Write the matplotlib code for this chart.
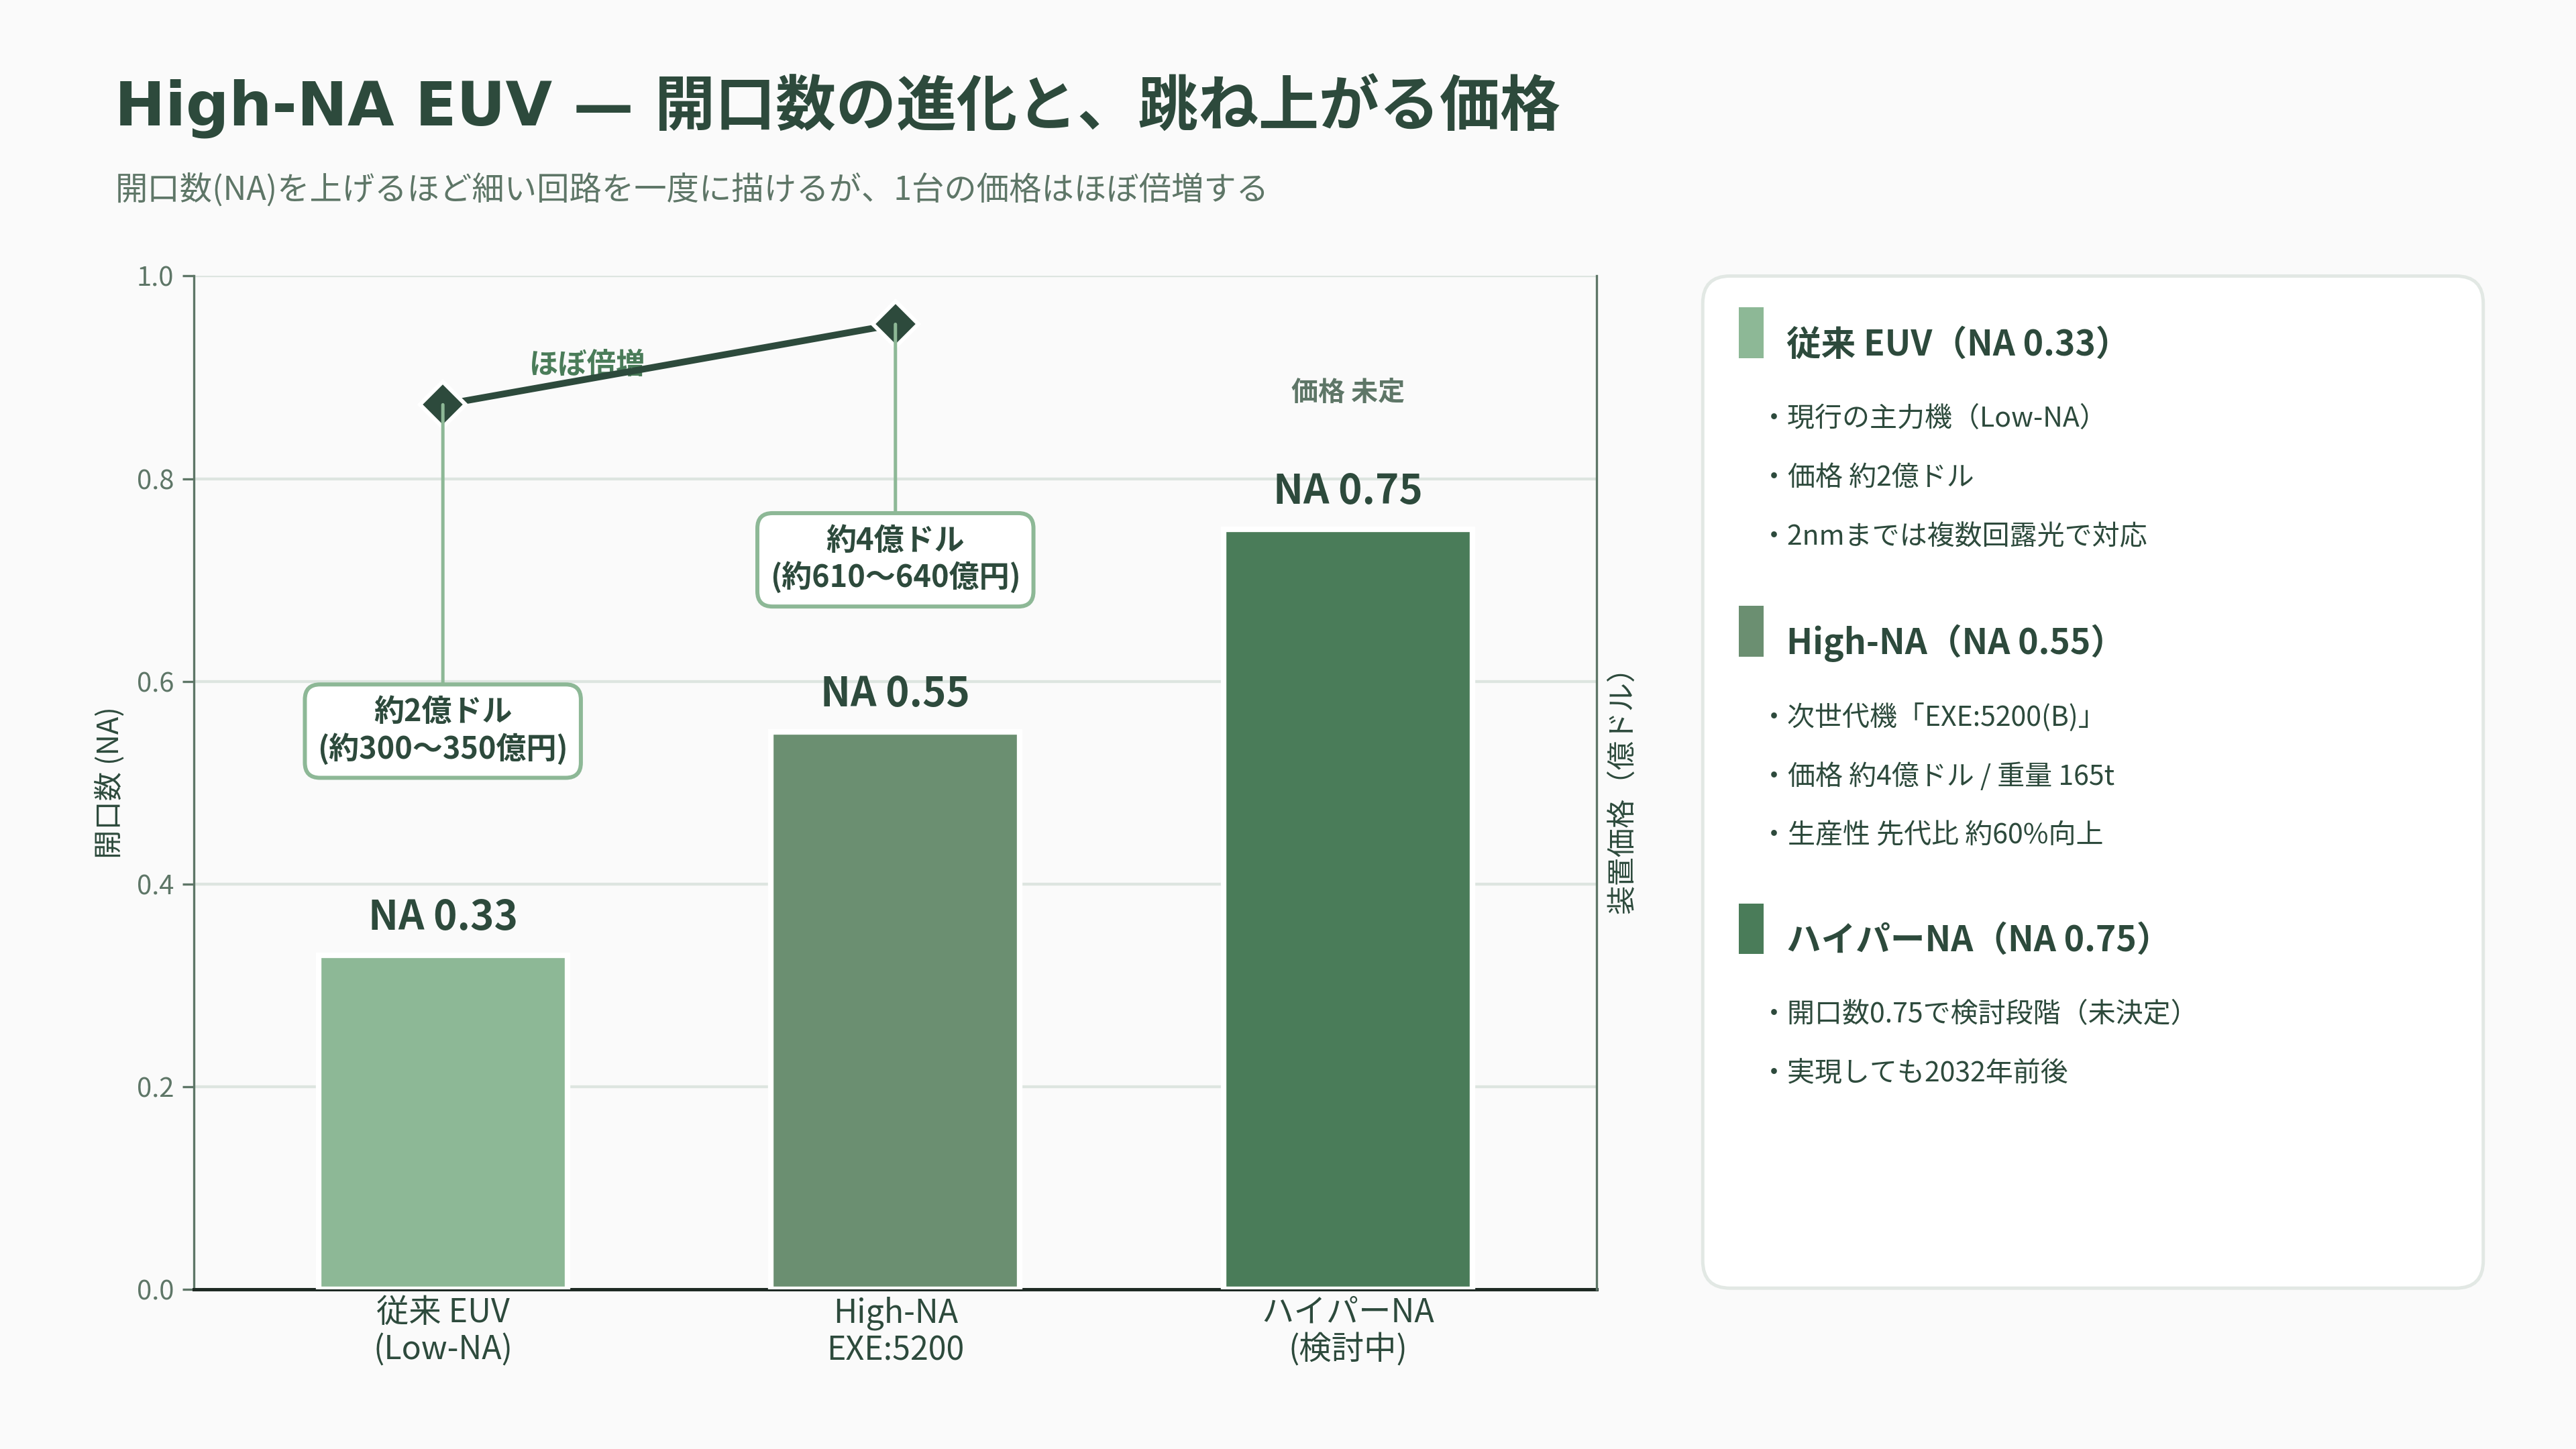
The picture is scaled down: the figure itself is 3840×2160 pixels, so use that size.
import matplotlib
matplotlib.use('Agg')
import matplotlib.pyplot as plt
from matplotlib.patches import FancyBboxPatch

plt.rcParams['font.family'] = ['Noto Sans CJK JP', 'DejaVu Sans']

# ---------------- data ----------------
categories = ['従来 EUV\n(Low-NA)', 'High-NA\nEXE:5200', 'ハイパーNA\n(検討中)']
na_values = [0.33, 0.55, 0.75]
na_labels = ['NA 0.33', 'NA 0.55', 'NA 0.75']
bar_colors = ['#8DB896', '#6B8F71', '#4A7C59']

price_x = [0, 1]
price_values = [2, 4]          # 億ドル
price_notes = ['約2億ドル\n(約300〜350億円)', '約4億ドル\n(約610〜640億円)']
price_note_y = [0.551, 0.720]  # note box centre on NA axis
price_unknown = '価格 未定'
price_trend = 'ほぼ倍増'

yticks = [0.0, 0.2, 0.4, 0.6, 0.8, 1.0]

panel_headers = ['従来 EUV（NA 0.33）', 'High-NA（NA 0.55）', 'ハイパーNA（NA 0.75）']
panel_bullets = [
    ['現行の主力機（Low-NA）', '価格 約2億ドル', '2nmまでは複数回露光で対応'],
    ['次世代機「EXE:5200(B)」', '価格 約4億ドル / 重量 165t', '生産性 先代比 約60%向上'],
    ['開口数0.75で検討段階（未決定）', '実現しても2032年前後'],
]

title = 'High-NA EUV — 開口数の進化と、跳ね上がる価格'
subtitle = '開口数(NA)を上げるほど細い回路を一度に描けるが、1台の価格はほぼ倍増する'

# ---------------- style ----------------
DARK = '#2D4A3C'
MUTED = '#5E7667'
GRID = '#DDE5E0'
BG = '#FAFAFA'

fig = plt.figure(figsize=(16, 9), dpi=240, facecolor=BG)

fig.text(0.0445, 0.927, title, fontsize=27, fontweight='bold', color=DARK,
         ha='left', va='center', family=['DejaVu Sans', 'Noto Sans CJK JP'])
fig.text(0.0447, 0.869, subtitle, fontsize=14.5, color=MUTED,
         ha='left', va='center')

ax = fig.add_axes([0.0753, 0.110, 0.5446, 0.6995])
ax.set_facecolor(BG)
x = list(range(len(categories)))
ax.bar(x, na_values, width=0.55, color=bar_colors, edgecolor='white',
       linewidth=2.5, zorder=3)
for xi, v, lab in zip(x, na_values, na_labels):
    ax.text(xi, v + 0.037, lab, ha='center', va='center', fontsize=18,
            fontweight='bold', color=DARK, zorder=5)

ax.set_xlim(-0.55, 2.55)
ax.set_ylim(0, 1.0)
ax.set_yticks(yticks)
ax.set_yticklabels([f'{t:.1f}' for t in yticks])
ax.set_xticks(x)
ax.set_xticklabels(categories, fontsize=14.5, color=DARK, linespacing=1.15)
ax.tick_params(axis='x', length=0, pad=3)
ax.tick_params(axis='y', length=5, width=1, color=MUTED, labelsize=12,
               labelcolor=MUTED, pad=4)
ax.yaxis.grid(True, color=GRID, linewidth=1.3, zorder=0)
ax.set_axisbelow(True)
ax.spines['top'].set_visible(False)
ax.spines['right'].set_visible(False)
ax.spines['left'].set_color(MUTED)
ax.spines['left'].set_linewidth(1.0)
ax.spines['bottom'].set_color('#1E2A24')
ax.spines['bottom'].set_linewidth(1.5)
ax.set_ylabel('開口数 (NA)', fontsize=13, color=DARK, labelpad=5)

ax.text(2, 0.885, price_unknown, ha='center', va='center', fontsize=12,
        fontweight='bold', color=MUTED, zorder=5)

# price on twin axis
ax2 = ax.twinx()
ax2.set_ylim(-20, 5.2)
ax2.set_yticks([])
for s in ['top', 'left', 'bottom']:
    ax2.spines[s].set_visible(False)
ax2.spines['right'].set_color(MUTED)
ax2.spines['right'].set_linewidth(1.0)
ax2.set_ylabel('装置価格（億ドル）', fontsize=13, color=DARK, labelpad=5)

for xi, p, note, ny in zip(price_x, price_values, price_notes, price_note_y):
    ax2.annotate(note, xy=(xi, p), xytext=(xi, ny), textcoords=ax.transData,
                 ha='center', va='center', fontsize=13.5, fontweight='bold',
                 color=DARK, linespacing=1.2, zorder=4,
                 bbox=dict(boxstyle='round,pad=0.42,rounding_size=0.5',
                           fc='white', ec='#8DB896', lw=1.8),
                 arrowprops=dict(arrowstyle='-', color='#8DB896', lw=1.5,
                                 shrinkA=0, shrinkB=0))

ax2.plot(price_x, price_values, color=DARK, linewidth=3, marker='D',
         markersize=14.5, markerfacecolor=DARK, markeredgecolor='white',
         markeredgewidth=1.8, zorder=3)
ax2.text(0.32, -20 + 0.912 * 25.2, price_trend, ha='center', va='center',
         fontsize=13, fontweight='bold', color='#4A7C59', zorder=2)

# ---------------- right panel ----------------
pax = fig.add_axes([0.661, 0.111, 0.303, 0.6985])
pax.set_xlim(0, 1)
pax.set_ylim(0, 1)
pax.axis('off')
W, H = 476, 616
pax.add_patch(FancyBboxPatch((0, 0), 1, 1,
                             boxstyle='round,pad=0,rounding_size=0.035',
                             mutation_aspect=W / H, fc='white', ec='#E2E8E4',
                             lw=1.5, clip_on=False))

y_bar_top = [0.969, 0.674, 0.380]
for hdr, bullets, col, yt in zip(panel_headers, panel_bullets, bar_colors, y_bar_top):
    pax.add_patch(plt.Rectangle((0.046, yt - 0.050), 0.032, 0.050, fc=col,
                                ec='none'))
    pax.text(0.107, yt - 0.037, hdr, fontsize=15.5, fontweight='bold',
             color=DARK, ha='left', va='center')
    for i, b in enumerate(bullets):
        pax.text(0.074, yt - 0.110 - i * 0.0585, '・' + b, fontsize=12.3,
                 color=DARK, ha='left', va='center')

fig.savefig('out.png', dpi=240, facecolor=BG)
